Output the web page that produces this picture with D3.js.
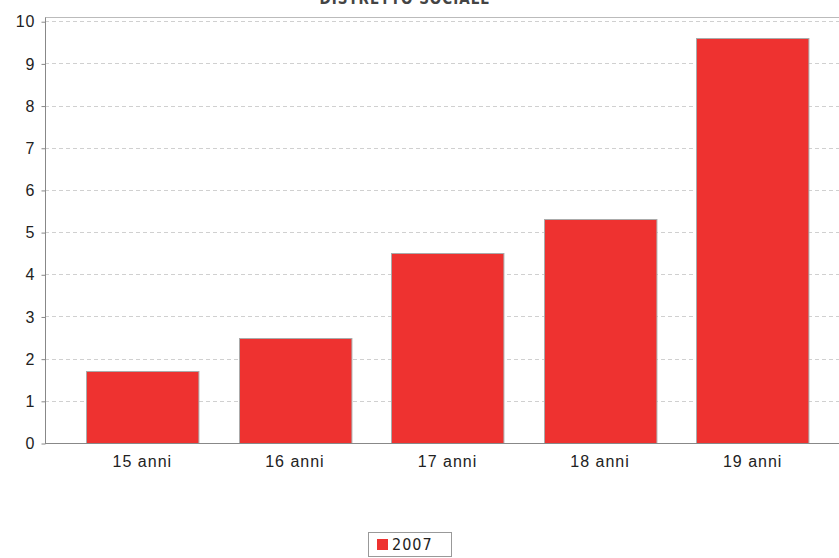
<!DOCTYPE html>
<html><head><meta charset="utf-8">
<script src="https://cdn.jsdelivr.net/npm/d3@7"></script>
<style>body{margin:0;background:#fff;}svg{display:block;font-family:"DejaVu Sans",sans-serif;font-stretch:condensed;}</style>
</head><body>
<svg id="chart" width="839" height="558"></svg>
<script>
const categories = ["15 anni","16 anni","17 anni","18 anni","19 anni"];
const values2007 = [1.7, 2.5, 4.5, 5.3, 9.6];
const yTicks = [0,1,2,3,4,5,6,7,8,9,10];
const seriesName = "2007";
const titleText = "DISTRETTO SOCIALE";

(function(){
const svg = d3.select("#chart");
const pL = 45, pR = 849, pT = 17, pB = 443;
const x = d3.scaleBand().domain(categories).range([pL+1, pR]).paddingInner(0.2632).paddingOuter(0.2632);
const y = d3.scaleLinear().domain([0, 10.1]).range([pB, pT]);

svg.append("text").attr("x", 405).attr("y", 4).attr("text-anchor","middle")
  .attr("font-size", 15).attr("font-weight","bold").attr("letter-spacing",1).attr("fill","#444").text(titleText);

// gridlines
svg.append("g").selectAll("line").data(yTicks.filter(d=>d>0)).join("line")
  .attr("x1", pL).attr("x2", 839).attr("y1", d=>Math.round(y(d))+0.5).attr("y2", d=>Math.round(y(d))+0.5)
  .attr("stroke","#d0d0d0").attr("stroke-dasharray","4,3");

// top border
svg.append("line").attr("x1",pL).attr("x2",839).attr("y1",pT+0.5).attr("y2",pT+0.5).attr("stroke","#bbb");

// bars
svg.append("g").selectAll("rect").data(values2007).join("rect")
  .attr("x", (d,i)=>Math.round(x(categories[i]))+0.5)
  .attr("y", d=>Math.round(y(d))+0.5)
  .attr("width", x.bandwidth())
  .attr("height", d=>pB - Math.round(y(d)))
  .attr("fill","#ee3230").attr("stroke","#aaaaaa").attr("stroke-width",1);

// y axis
const yAxis = d3.axisLeft(y).tickValues(yTicks).tickSize(4).tickPadding(6).tickFormat(d3.format("d"));
const gy = svg.append("g").attr("transform",`translate(${pL+0.5},0.5)`).call(yAxis);
gy.select(".domain").attr("stroke","#888").attr("d",`M0,${pT}V${pB}`);
gy.selectAll(".tick line").attr("stroke","#888");
gy.selectAll("text").attr("font-size",16).attr("letter-spacing",1).attr("fill","#222");

// x axis
const xAxis = d3.axisBottom(x).tickSize(0).tickPadding(12);
const gx = svg.append("g").attr("transform",`translate(0,${pB+0.5})`).call(xAxis);
gx.select(".domain").attr("stroke","#888").attr("d",`M${pL},0H839`);
gx.selectAll("text").attr("font-size",16).attr("letter-spacing",1).attr("fill","#222");

// legend
const lg = svg.append("g");
lg.append("rect").attr("x",368.5).attr("y",532.5).attr("width",83).attr("height",24).attr("fill","#fff").attr("stroke","#999");
lg.append("rect").attr("x",377).attr("y",539).attr("width",11).attr("height",11).attr("fill","#ee3230");
lg.append("text").attr("x",392).attr("y",550).attr("font-size",16).attr("letter-spacing",1).attr("fill","#222").text(seriesName);
})();
</script>
</body></html>
